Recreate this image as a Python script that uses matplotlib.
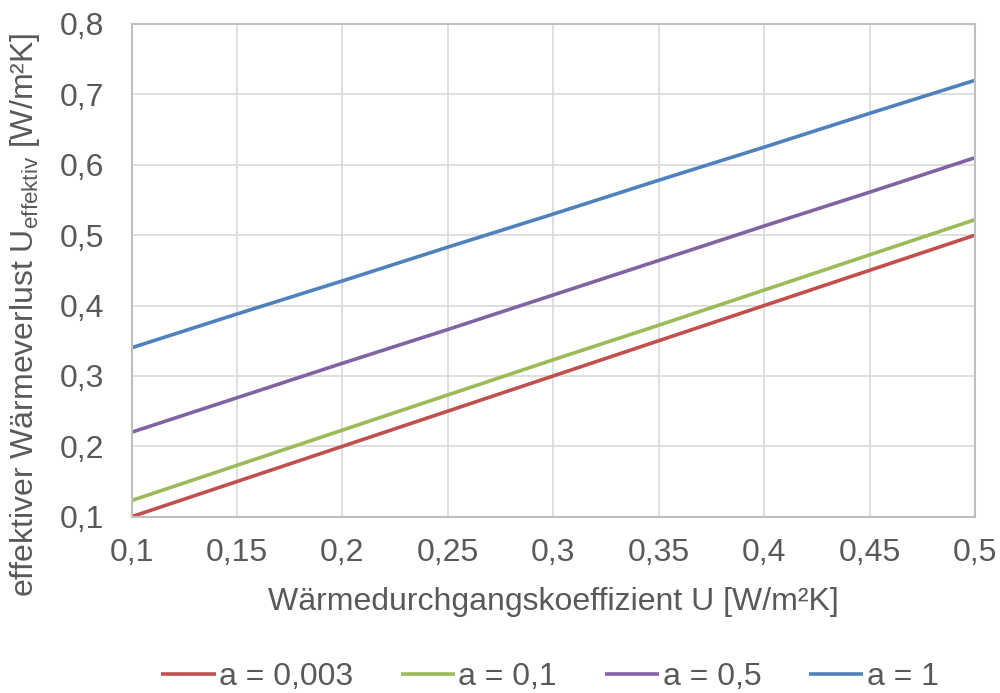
import numpy as np
import matplotlib
matplotlib.use("Agg")
import matplotlib.pyplot as plt

plt.rcParams['font.family'] = ['Liberation Sans', 'DejaVu Sans']
plt.rcParams['mathtext.fontset'] = 'custom'
plt.rcParams['mathtext.rm'] = 'Liberation Sans'
plt.rcParams['mathtext.it'] = 'Liberation Sans:italic'

# data
u_values = [0.1, 0.15, 0.2, 0.25, 0.3, 0.35, 0.4, 0.45, 0.5]
u_eff_a0003 = [0.100, 0.150, 0.200, 0.250, 0.300, 0.350, 0.400, 0.450, 0.500]
u_eff_a01 = [0.123, 0.173, 0.223, 0.273, 0.323, 0.372, 0.422, 0.472, 0.522]
u_eff_a05 = [0.220, 0.269, 0.318, 0.366, 0.415, 0.464, 0.513, 0.561, 0.610]
u_eff_a1 = [0.340, 0.388, 0.435, 0.483, 0.530, 0.578, 0.625, 0.673, 0.720]
series_labels = ['a = 0,003', 'a = 0,1', 'a = 0,5', 'a = 1']
colors = ['#C0504D', '#9BBB59', '#8064A2', '#4F81BD']

x_ticks = [0.1, 0.15, 0.2, 0.25, 0.3, 0.35, 0.4, 0.45, 0.5]
x_ticklabels = ['0,1', '0,15', '0,2', '0,25', '0,3', '0,35', '0,4', '0,45', '0,5']
y_ticks = [0.1, 0.2, 0.3, 0.4, 0.5, 0.6, 0.7, 0.8]
y_ticklabels = ['0,1', '0,2', '0,3', '0,4', '0,5', '0,6', '0,7', '0,8']

text_col = '#595959'
fs = 23

fig = plt.figure(figsize=(10, 6.93), dpi=100)
ax = fig.add_axes([0.1316, 0.2544, 0.8434, 0.711])

for ys, lab, c in zip([u_eff_a0003, u_eff_a01, u_eff_a05, u_eff_a1], series_labels, colors):
    ax.plot(u_values, ys, color=c, lw=2.6, label=lab, solid_capstyle='butt')

ax.set_xlim(0.1, 0.5)
ax.set_ylim(0.1, 0.8)
ax.set_xticks(x_ticks)
ax.set_xticklabels(x_ticklabels)
ax.set_yticks(y_ticks)
ax.set_yticklabels(y_ticklabels)
ax.tick_params(axis='both', length=0, labelsize=fs, labelcolor=text_col)
ax.tick_params(axis='x', pad=15)
ax.tick_params(axis='y', pad=20)
ax.grid(True, color='#D9D9D9', lw=1.2)
ax.set_axisbelow(True)
for s in ax.spines.values():
    s.set_color('#BFBFBF')
    s.set_linewidth(1.5)

ax.set_xlabel('Wärmedurchgangskoeffizient U [W/m²K]', fontsize=fs, color=text_col, labelpad=14)
ax.set_ylabel(r'effektiver Wärmeverlust U$_{\mathrm{effektiv}}$ [W/m²K]', fontsize=fs,
              color=text_col)
ax.yaxis.set_label_coords(-0.106, 0.41)

leg = fig.legend(loc='lower center', bbox_to_anchor=(0.55, -0.04), ncol=4, frameon=False,
                 fontsize=fs, handlelength=1.7, handletextpad=0.1, columnspacing=1.5,
                 labelcolor=text_col)

fig.savefig('out.png', dpi=100)
